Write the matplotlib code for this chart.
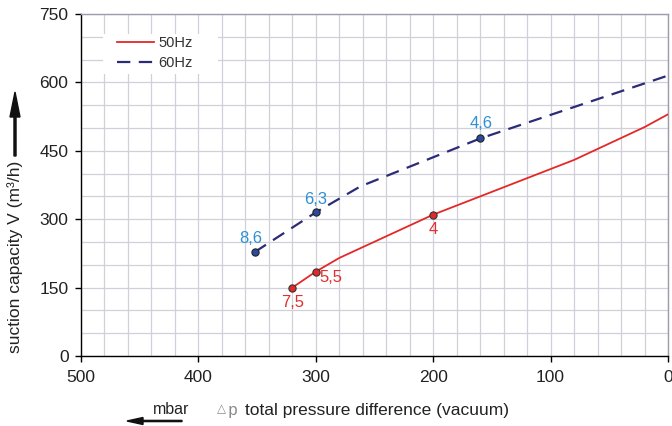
import matplotlib
matplotlib.use("Agg")
import matplotlib.pyplot as plt
from matplotlib.ticker import MultipleLocator
from matplotlib.patches import Rectangle, FancyArrow

plt.rcParams['font.family'] = ['Liberation Sans', 'DejaVu Sans']

# ---- data ----
p50 = [320, 300, 280, 200, 80, 20, 0]
v50 = [150, 185, 215, 310, 430, 502, 530]
p60 = [352, 300, 262, 160, 80, 0]
v60 = [228, 315, 372, 477, 546, 615]

p50_pts = [320, 300, 200]
v50_pts = [150, 185, 310]
lab50 = ["7,5", "5,5", "4"]

p60_pts = [352, 300, 160]
v60_pts = [228, 315, 477]
lab60 = ["8,6", "6,3", "4,6"]

xticks = [500, 400, 300, 200, 100, 0]
yticks = [0, 150, 300, 450, 600, 750]

W, H = 672, 426
fig = plt.figure(figsize=(W / 100, H / 100), dpi=100)
ax = fig.add_axes([81 / W, 1 - 356 / H, (668 - 81) / W, (356 - 14) / H])

red = '#e42828'
navy = '#2b2b78'
lblue = '#2f8fd4'
lred = '#e03030'

ax.plot(p50, v50, color=red, lw=1.3, label='50Hz', zorder=3)
ax.plot(p60, v60, color=navy, lw=1.6, dashes=(6.0, 3.8), label='60Hz', zorder=3)
ax.plot(p50_pts, v50_pts, 'o', ms=5.2, mfc='#e02a2a', mec='#333333', mew=0.8, zorder=4)
ax.plot(p60_pts, v60_pts, 'o', ms=5.2, mfc='#2a4a9c', mec='#222222', mew=0.8, zorder=4)

off50 = [(0, -10.5), (11, -4), (0, -10.5)]
for x, y, t, o in zip(p50_pts, v50_pts, lab50, off50):
    ax.annotate(t, (x, y), xytext=o, textcoords='offset points', ha='center',
                va='center', color=lred, fontsize=12)
off60 = [(-3, 9.5), (0, 9.5), (1, 10.5)]
for x, y, t, o in zip(p60_pts, v60_pts, lab60, off60):
    ax.annotate(t, (x, y), xytext=o, textcoords='offset points', ha='center',
                va='center', color=lblue, fontsize=12)

ax.set_xlim(500, 0)
ax.set_ylim(0, 750)
ax.set_xticks(xticks)
ax.set_yticks(yticks)
ax.xaxis.set_minor_locator(MultipleLocator(20))
ax.yaxis.set_minor_locator(MultipleLocator(50))
ax.grid(True, which='both', color='#d0d0db', lw=0.9, zorder=0)
ax.set_axisbelow(True)
ax.tick_params(which='major', direction='out', length=4, width=1, labelsize=12.5,
               labelcolor='#222222', pad=5)
ax.tick_params(which='minor', length=0)
ax.tick_params(axis='x', pad=6)
for s in ['left', 'bottom']:
    ax.spines[s].set_color('black')
    ax.spines[s].set_linewidth(1)
for s in ['top', 'right']:
    ax.spines[s].set_color('#9c9cae')
    ax.spines[s].set_linewidth(1)

# legend background box
ax.add_patch(Rectangle((103 / W, 1 - 74 / H), (218 - 103) / W, (74 - 34) / H,
                       transform=fig.transFigure, facecolor='white',
                       edgecolor='none', zorder=1.5))
leg = ax.legend(loc='upper left', bbox_to_anchor=(113 / W, 1 - 32 / H),
                bbox_transform=fig.transFigure, fontsize=10.5, frameon=False,
                handlelength=2.5, handletextpad=0.3, labelspacing=0.4,
                borderpad=0.3, borderaxespad=0)
for t in leg.get_texts():
    t.set_color('#333333')

# y label with arrow
fig.text(15 / W, 1 - 257 / H, 'suction capacity V (m³/h)', rotation=90,
         ha='center', va='center', fontsize=12.5, color='#222222')
fig.patches.append(FancyArrow(
    15 / W, 1 - 156 / H, 0, (156 - 92) / H, width=1.3 / H,
    head_width=10 / W, head_length=25 / H, length_includes_head=True,
    color='#111111', transform=fig.transFigure, figure=fig))

# x label
fig.text(245 / W, 1 - 410 / H, 'total pressure difference (vacuum)',
         ha='left', va='center', fontsize=12.5, color='#222222')
fig.text(221 / W, 1 - 409 / H, '△', ha='center', va='center', fontsize=8.5,
         color='#8a8a8a', family=['DejaVu Sans'])
fig.text(233 / W, 1 - 410 / H, 'p', ha='center', va='center', fontsize=12,
         color='#8a8a8a', family=['Liberation Mono', 'DejaVu Sans Mono'])
fig.text(171 / W, 1 - 409 / H, 'mbar', ha='center', va='center', fontsize=11.5,
         color='#222222')
fig.patches.append(FancyArrow(
    182 / W, 1 - 421 / H, -(182 - 127) / W, 0, width=1.2 / H,
    head_width=7 / H, head_length=16 / W, length_includes_head=True,
    color='#111111', transform=fig.transFigure, figure=fig))

fig.savefig('out.png', dpi=100)
